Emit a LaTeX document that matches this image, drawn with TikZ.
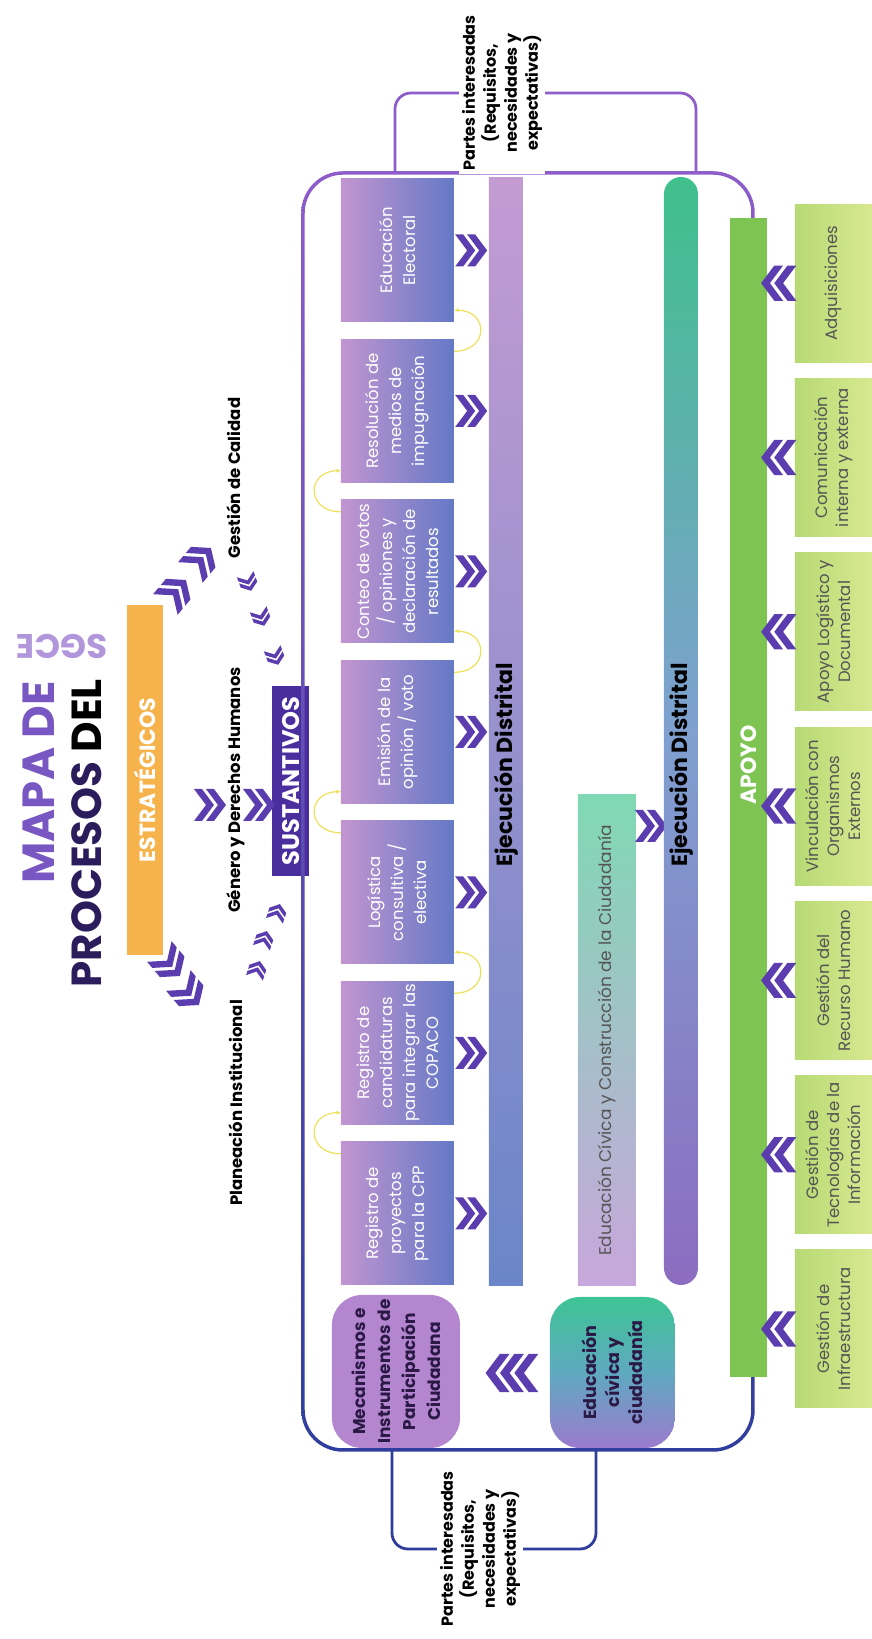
\documentclass[tikz,border=0pt]{standalone}
\usepackage{fontspec}
\setmainfont{Poppins}
\usetikzlibrary{arrows.meta, positioning, calc}
\definecolor{titlepurple}{HTML}{7957C2}
\definecolor{titledark}{HTML}{2B1D5C}
\definecolor{sgcepurple}{HTML}{B296DC}
\definecolor{estorange}{HTML}{F6B24B}
\definecolor{sustviolet}{HTML}{4B2E9E}
\definecolor{chevpurple}{HTML}{5B3DB0}
\definecolor{boxpink}{HTML}{C295D0}
\definecolor{boxblue}{HTML}{6479C6}
\definecolor{ejeblue}{HTML}{6A86C8}
\definecolor{ejepink}{HTML}{C49BD3}
\definecolor{ejepurple}{HTML}{8C6CC0}
\definecolor{ejemid}{HTML}{7FA0D0}
\definecolor{ejegreen}{HTML}{3FC08C}
\definecolor{edulilac}{HTML}{C8A7DC}
\definecolor{edumint}{HTML}{80D9B4}
\definecolor{apoyogreen}{HTML}{7DC453}
\definecolor{supgreen}{HTML}{B7DA74}
\definecolor{supyellow}{HTML}{D8E890}
\definecolor{mecalilac}{HTML}{B386CF}
\definecolor{civpurple}{HTML}{9C7ACE}
\definecolor{civblue}{HTML}{5FA9C0}
\definecolor{civgreen}{HTML}{3EC495}
\definecolor{frameblue}{HTML}{2F3E9D}
\definecolor{framepurple}{HTML}{8D5DC9}
\definecolor{arcyellow}{HTML}{EDE05A}
\definecolor{greytext}{HTML}{555555}
\definecolor{darktext}{HTML}{2A1845}

\begin{document}
\begin{tikzpicture}[x=1pt, y=1pt, rotate=90, transform shape,
    procbox/.style={rectangle, minimum width=143pt, minimum height=113pt, inner sep=2pt, align=center, text=white, left color=boxpink, right color=boxblue, font=\fontsize{16.5}{23}\selectfont},
    supbox/.style={rectangle, minimum width=158pt, minimum height=77pt, inner sep=2pt, align=center, text=greytext, left color=supgreen, right color=supyellow, font=\fontsize{16.5}{21}\selectfont},
    bartxt/.style={font=\fontsize{22}{24}\selectfont\bfseries, text=black, inner sep=0pt},
    lbl/.style={font=\fontsize{16.5}{20}\selectfont\bfseries, text=black, inner sep=1pt},
    pitxt/.style={font=\fontsize{16}{21}\selectfont\bfseries, align=center, fill=white, inner sep=3pt},
    brk/.style={line width=2.8pt, rounded corners=16pt},
    yarc/.style={draw=arcyellow, line width=1.2pt, -{Stealth[length=5pt, width=4pt]}},
    titletxt/.style={font=\fontsize{42}{46}\selectfont\bfseries, inner sep=0pt},
    dchev/.pic={\foreach \o in {0,12} \fill[chevpurple] (\o-15,16) -- (\o-7,16) -- (\o+5,0) -- (\o-7,-16) -- (\o-15,-16) -- (\o-3,0) -- cycle;},
    tchev/.pic={\foreach \o in {-12,0,12} \fill[chevpurple] (\o-15,16) -- (\o-7,16) -- (\o+5,0) -- (\o-7,-16) -- (\o-15,-16) -- (\o-3,0) -- cycle;}
]
    \useasboundingbox (0,0) rectangle (1639,872);

    % Title
    \node[titletxt, text=titlepurple, anchor=east, font=\fontsize{45}{48}\selectfont\bfseries] (mapa) at (958,833) {MAPA DE};
    \node[titletxt, anchor=east] (procesos) at (960,785) {\textcolor{titledark}{PROCESOS} DEL};
    \node[titletxt, text=sgcepurple, rotate=90, font=\fontsize{34}{38}\selectfont\bfseries] (sgce) at (993,810) {SGCE};

    % Strategic level
    \node[rectangle, fill=estorange, minimum width=350pt, minimum height=36pt, text=white, font=\fontsize{22}{24}\selectfont\bfseries] (estr) at (859,727) {ESTRATÉGICOS};
    \node[rectangle, fill=sustviolet, minimum width=190pt, minimum height=37pt, inner sep=1pt, text=white, font=\fontsize{24}{26}\selectfont\bfseries] (sust) at (858,581) {SUSTANTIVOS};
    \node[lbl] (genero) at (849,636) {Género y Derechos Humanos};
    \node[lbl] (calidad) at (1161,638) {Gestión de Calidad};
    \node[lbl] (planea) at (536,636) {Planeación Institucional};

    \pic[rotate=-90] at (834,663) {dchev};
    \pic[rotate=-90] at (834,614) {dchev};
    \pic[rotate=-40] at (1046,697) {dchev};
    \pic[rotate=-40] at (1078,672) {dchev};
    \pic[rotate=-140] at (676,703) {dchev};
    \pic[rotate=-140] at (647,684) {dchev};
    \foreach \p in {(669,615),(699,608),(726,595)}
        \pic[rotate=-18, scale=0.55] at \p {dchev};
    \foreach \p in {(983,597),(1022,611),(1057,624)}
        \pic[rotate=200, scale=0.55] at \p {dchev};

    % Outer frame
    \shade[bottom color=frameblue, top color=framepurple, even odd rule]
        [rounded corners=41.75pt] (187.25,117.25) rectangle (1467.75,570.75)
        [rounded corners=38.25pt] (190.75,120.75) rectangle (1464.25,567.25);

    % Substantive processes
    \foreach \t [count=\i from 0] in {{Registro de\\proyectos\\para la CPP},
        {Registro de\\candidaturas\\para integrar las\\COPACO},
        {Logística\\consultiva /\\electiva},
        {Emisión de la\\opinión / voto},
        {Conteo de votos\\/ opiniones y\\declaración de\\resultados},
        {Resolución de\\medios de\\impugnación},
        {Educación\\Electoral}} {
        \node[procbox] (p\i) at ({425.5+160.5*\i},474.5) {\t};
        \pic[rotate=-90] at ($(p\i.south)+(0,-16)$) {dchev};
    }
    \foreach \i/\j in {0/1,2/3,4/5}
        \draw[yarc] ($(p\i.north east)+(-12,0)$) .. controls +(0,35) and +(0,35) .. ($(p\j.north west)+(12,0)$);
    \foreach \i/\j in {1/2,3/4,5/6}
        \draw[yarc] ($(p\i.south east)+(-12,0)$) .. controls +(0,-35) and +(0,-35) .. ($(p\j.south west)+(12,0)$);

    \node[rectangle, bottom color=ejeblue, top color=ejepink, minimum width=1108pt, minimum height=34pt] (ejec1) at (907,366) {};
    \node[bartxt] (ejec1-t) at ($(ejec1)+(-33,0)$) {Ejecución Distrital};

    % Civic education
    \node[rectangle, bottom color=edulilac, top color=edumint, minimum width=491pt, minimum height=58pt, text=greytext, font=\fontsize{17}{20}\selectfont] (educ) at (598.5,265) {Educación Cívica y Construcción de la Ciudadanía};
    \pic[rotate=-90] at (813,222) {dchev};
    \node[rectangle, rounded corners=17pt, bottom color=ejepurple, top color=ejegreen, middle color=ejemid, minimum width=1108pt, minimum height=34pt] (ejec2) at (908,191) {};
    \node[bartxt] (ejec2-t) at ($(ejec2)+(-34,0)$) {Ejecución Distrital};

    \node[rectangle, rounded corners=30pt, fill=mecalilac, minimum width=153pt, minimum height=128pt, align=center, text=darktext, font=\fontsize{17}{25}\selectfont\bfseries] (meca) at (267.5,476) {Mecanismos e\\Instrumentos de\\Participación\\Ciudadana};
    \node[rectangle, rounded corners=30pt, bottom color=civpurple, top color=civgreen, middle color=civblue, minimum width=151pt, minimum height=125pt, align=center, text=darktext, font=\fontsize{17.5}{23}\selectfont\bfseries] (civ) at (266.5,259.5) {Educación\\cívica y\\ciudadanía};
    \pic[rotate=90, scale=1.2] at (266,366) {tchev};

    % Support processes
    \node[rectangle, fill=apoyogreen, minimum width=1159pt, minimum height=37pt] (apoyo) at (841.5,123.5) {};
    \node[text=white, font=\fontsize{22}{24}\selectfont\bfseries] (apoyo-t) at (874,123.5) {APOYO};
    \foreach \t [count=\j from 0] in {{Gestión de\\Infraestructura},
        {Gestión de\\Tecnologías de la\\Información},
        {Gestión del\\Recurso Humano},
        {Vinculación con\\Organismos\\Externos},
        {Apoyo Logístico y\\Documental},
        {Comunicación\\interna y externa},
        {Adquisiciones}} {
        \node[supbox] (s\j) at ({310+174.3*\j},38.5) {\t};
        \pic[rotate=90, scale=1.1] at ($(s\j.north)+(0,15)$) {dchev};
    }

    % Interested parties
    \node[pitxt] (pi-r) at (1546,370) {Partes interesadas\\(Requisitos,\\necesidades y\\expectativas)};
    \coordinate (fr-a) at (1466,176);
    \coordinate (fr-b) at (1466,477);
    \draw[brk, draw=framepurple] (fr-a) -| (pi-r);
    \draw[brk, draw=framepurple] (fr-b) -| (pi-r);

    \node[pitxt] (pi-l) at (90,392) {Partes interesadas\\(Requisitos,\\necesidades y\\expectativas)};
    \coordinate (fr-c) at (189,480);
    \coordinate (fr-d) at (189,276);
    \draw[brk, draw=frameblue] (fr-c) -| (pi-l);
    \draw[brk, draw=frameblue] (fr-d) -| (pi-l);

\end{tikzpicture}
\end{document}
